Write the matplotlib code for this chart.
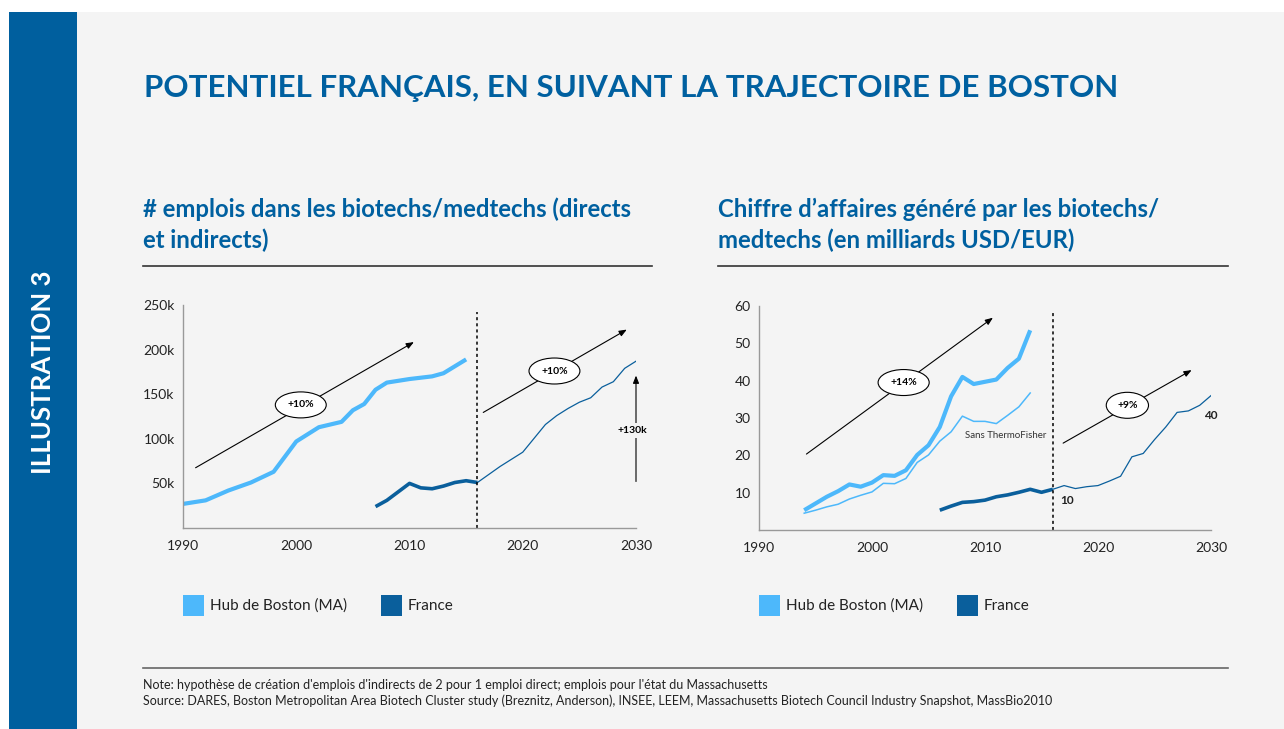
import matplotlib
matplotlib.use("Agg")
import matplotlib.pyplot as plt
from matplotlib.patches import Rectangle

plt.rcParams["font.family"] = ["Lato", "DejaVu Sans"]

W, H = 1284, 729
BG = "#f4f4f4"
BLUE_DARK = "#005f9e"
BOSTON = "#4db8fb"
FRANCE = "#0a5f9c"
TITLE_BLUE = "#0060a0"

# ---- left chart: jobs (thousands) ----
emp_bos_years = [1990, 1992, 1994, 1996, 1998, 2000, 2002, 2004, 2005, 2006,
                 2007, 2008, 2010, 2012, 2013, 2015]
emp_bos = [27, 31, 42, 51, 63, 97, 113, 119, 132, 139, 155, 163, 167, 170, 173.5, 189]
emp_fr_years = [2007, 2008, 2010, 2011, 2012, 2013, 2014, 2015, 2016]
emp_fr = [24, 31, 50, 45, 44, 47, 51, 53, 51]
emp_proj_years = [2016, 2018, 2020, 2022, 2023, 2024, 2025, 2026, 2027, 2028, 2029, 2030]
emp_proj = [51, 69, 85, 116, 126, 134, 141, 146, 158, 164, 179, 187]
emp_yticks = [50, 100, 150, 200, 250]

# ---- right chart: revenue (bn USD/EUR) ----
rev_bos_years = list(range(1994, 2015))
rev_bos = [5.3, 7.1, 8.9, 10.4, 12.2, 11.6, 12.7, 14.7, 14.5, 16.0, 20.1,
           22.7, 27.6, 35.8, 41.0, 39.1, 39.7, 40.3, 43.4, 45.9, 53.5]
rev_bos_ex_tf = [4.5, 5.3, 6.2, 6.9, 8.3, 9.3, 10.2, 12.5, 12.4, 13.8, 18.1,
                 20.1, 23.8, 26.3, 30.5, 29.1, 29.1, 28.5, 30.7, 33.0, 36.7]
rev_fr_years = list(range(2006, 2017))
rev_fr = [5.3, 6.4, 7.4, 7.6, 8.0, 8.9, 9.4, 10.1, 10.9, 10.1, 10.9]
rev_proj_years = list(range(2016, 2031))
rev_proj = [10.9, 11.9, 11.1, 11.6, 11.9, 13.1, 14.4, 19.6, 20.5, 24.2,
            27.6, 31.5, 31.9, 33.4, 36.0]
rev_yticks = [10, 20, 30, 40, 50, 60]

x_ticks = [1990, 2000, 2010, 2020, 2030]
legend_labels = ["Hub de Boston (MA)", "France"]


def fx(px):
    return px / W


def fy(py):
    return 1 - py / H


fig = plt.figure(figsize=(W / 100, H / 100), dpi=100)
fig.patch.set_facecolor("white")
fig.patches.append(Rectangle((fx(9), 0), 1 - fx(9), fy(12), transform=fig.transFigure,
                             facecolor=BG, edgecolor="none", zorder=-2))
fig.patches.append(Rectangle((fx(9), 0), fx(77) - fx(9), fy(12), transform=fig.transFigure,
                             facecolor=BLUE_DARK, edgecolor="none", zorder=-1))
fig.text(fx(43), fy(372), "ILLUSTRATION 3", rotation=90, color="white", fontsize=18.5,
         fontweight="bold", ha="center", va="center")

fig.text(fx(144), fy(88), "POTENTIEL FRANÇAIS, EN SUIVANT LA TRAJECTOIRE DE BOSTON",
         color=TITLE_BLUE, fontsize=22.5, fontweight="bold", ha="left", va="center")

fig.text(fx(143), fy(225), "# emplois dans les biotechs/medtechs (directs\net indirects)",
         color=TITLE_BLUE, fontsize=17.2, fontweight="bold", ha="left", va="center",
         linespacing=1.38)
fig.text(fx(718), fy(225), "Chiffre d\u2019affaires généré par les biotechs/\nmedtechs (en milliards USD/EUR)",
         color=TITLE_BLUE, fontsize=17.2, fontweight="bold", ha="left", va="center",
         linespacing=1.38)
for x0, x1 in [(143, 652), (718, 1228)]:
    fig.add_artist(plt.Line2D([fx(x0), fx(x1)], [fy(266), fy(266)], color="#333333", lw=1.2))
fig.add_artist(plt.Line2D([fx(143), fx(1228)], [fy(668), fy(668)], color="#666666", lw=1.2))

fig.text(fx(143), fy(685), "Note: hypothèse de création d'emplois d'indirects de 2 pour 1 emploi direct; "
         "emplois pour l'état du Massachusetts", fontsize=9, color="#222222", va="center")
fig.text(fx(143), fy(701), "Source: DARES, Boston Metropolitan Area Biotech Cluster study (Breznitz, Anderson), "
         "INSEE, LEEM, Massachusetts Biotech Council Industry Snapshot, MassBio2010",
         fontsize=9, color="#222222", va="center")

# legends
for sq_x in [(183, 381), (759, 957)]:
    for x0, col, lab in zip(sq_x, [BOSTON, FRANCE], legend_labels):
        fig.patches.append(Rectangle((fx(x0), fy(616)), fx(21), 21 / H, transform=fig.transFigure,
                                     facecolor=col, edgecolor="none"))
        fig.text(fx(x0 + 27), fy(606), lab, fontsize=11, color="#222222", va="center")


def style_axes(ax, yticks, ylabels, ymax):
    ax.set_facecolor("none")
    ax.set_xlim(1990, 2030)
    ax.set_ylim(0, ymax)
    ax.set_xticks(x_ticks)
    ax.set_yticks(yticks)
    ax.set_yticklabels(ylabels)
    for s in ["top", "right"]:
        ax.spines[s].set_visible(False)
    for s in ["left", "bottom"]:
        ax.spines[s].set_color("#999999")
        ax.spines[s].set_linewidth(1)
    ax.tick_params(length=0, labelsize=10, colors="#222222", pad=6)


def trend(ax, p0, p1):
    ax.annotate("", xy=p1, xytext=p0,
                arrowprops=dict(arrowstyle="-|>,head_length=0.45,head_width=0.18",
                                color="black", lw=0.8))


def bubble(ax, xy, label):
    ax.text(xy[0], xy[1], label, fontsize=7.5, fontweight="bold", ha="center", va="center",
            bbox=dict(boxstyle="ellipse,pad=0.45", fc="white", ec="black", lw=0.8), zorder=5)


# left axes: x 183..636, y 305..528
ax1 = fig.add_axes([fx(183), fy(528), fx(636) - fx(183), (528 - 305) / H])
style_axes(ax1, [v * 1000 for v in emp_yticks], [f"{v}k" for v in emp_yticks], 250000)
ax1.tick_params(axis="x", pad=9)
ax1.plot(emp_bos_years, [v * 1000 for v in emp_bos], color=BOSTON, lw=3, solid_capstyle="butt")
ax1.plot(emp_fr_years, [v * 1000 for v in emp_fr], color=FRANCE, lw=2.6, solid_capstyle="butt")
ax1.plot(emp_proj_years, [v * 1000 for v in emp_proj], color=FRANCE, lw=0.9)
ax1.plot([2016, 2016], [0, 242000], color="black", lw=1.1, ls=(0, (2, 2)))
trend(ax1, (1990.9, 66000), (2010.6, 210000))
trend(ax1, (2016.3, 128000), (2029.4, 224000))
bubble(ax1, (2000.4, 138000), "+10%")
bubble(ax1, (2022.8, 176000), "+10%")
trend(ax1, (2030, 49000), (2030, 174000))
ax1.text(2029.7, 109000, "+130k", fontsize=7.5, fontweight="bold", ha="center", va="center",
         bbox=dict(boxstyle="square,pad=0.3", fc=BG, ec="none"), zorder=5)

# right axes: x 759..1211, y 305..530
ax2 = fig.add_axes([fx(759), fy(530), fx(1211) - fx(759), (530 - 306) / H])
style_axes(ax2, rev_yticks, [str(v) for v in rev_yticks], 60)
ax2.tick_params(axis="x", pad=9)
ax2.plot(rev_bos_years, rev_bos, color=BOSTON, lw=3, solid_capstyle="butt")
ax2.plot(rev_bos_years, rev_bos_ex_tf, color=BOSTON, lw=1.1)
ax2.plot(rev_fr_years, rev_fr, color=FRANCE, lw=2.6, solid_capstyle="butt")
ax2.plot(rev_proj_years, rev_proj, color=FRANCE, lw=0.9)
ax2.plot([2016, 2016], [0, 58], color="black", lw=1.1, ls=(0, (2, 2)))
trend(ax2, (1994, 19.9), (2010.9, 57.3))
trend(ax2, (2016.7, 22.9), (2028.5, 43.2))
bubble(ax2, (2002.8, 39.5), "+14%")
bubble(ax2, (2022.6, 33.4), "+9%")
ax2.text(2011.8, 25.4, "Sans ThermoFisher", fontsize=7, color="#333333", ha="center", va="center")
ax2.text(2017.3, 8.0, "10", fontsize=8.5, fontweight="bold", color="#222222", ha="center", va="center")
ax2.text(2030, 30.7, "40", fontsize=8.5, fontweight="bold", color="#222222", ha="center", va="center")

fig.savefig("out.png", dpi=100, facecolor=fig.get_facecolor())
